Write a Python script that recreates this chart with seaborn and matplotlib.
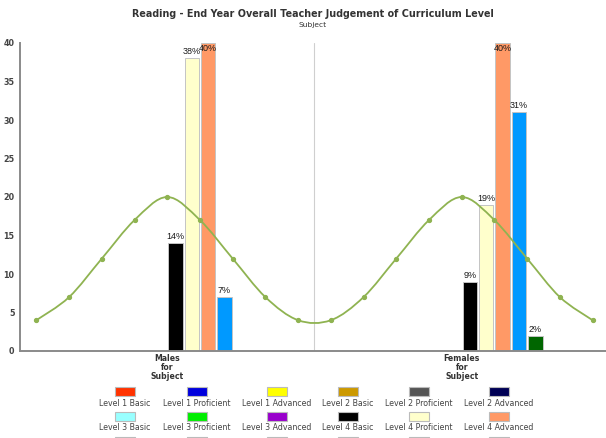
import numpy as np
import pandas as pd
import matplotlib
matplotlib.use("Agg")
import matplotlib.pyplot as plt
from matplotlib.path import Path
from matplotlib.patches import PathPatch, Rectangle
import seaborn as sns

# ---- data -------------------------------------------------------------
groups = ["Males", "Females"]
group_labels = ["Males\nfor\nSubject", "Females\nfor\nSubject"]

levels = [
    "Level 1 Basic", "Level 1 Proficient", "Level 1 Advanced",
    "Level 2 Basic", "Level 2 Proficient", "Level 2 Advanced",
    "Level 3 Basic", "Level 3 Proficient", "Level 3 Advanced",
    "Level 4 Basic", "Level 4 Proficient", "Level 4 Advanced",
    "Level 5 Basic", "Level 5 Proficient", "Level 5 Advanced",
    "Level 6 Basic", "Level 6 Proficient", "Level 6 Advanced",
]
level_colors = [
    "#FF3300", "#0000DD", "#FFFF00",
    "#CC9900", "#555555", "#000055",
    "#99FFFF", "#00EE00", "#9900CC",
    "#000000", "#FFFFCC", "#FF9966",
    "#0099FF", "#006600", "#CCCC99",
    "#CC99CC", "#CC6666", "#6666AA",
]

males_pct   = [0, 0, 0, 0, 0, 0, 0, 0, 0, 14, 38, 40, 7, 0, 0, 0, 0, 0]
females_pct = [0, 0, 0, 0, 0, 0, 0, 0, 0, 9, 19, 40, 31, 2, 0, 0, 0, 0]

# normal-curve overlay: nine points per group
curve_males   = [4, 7, 12, 17, 20, 17, 12, 7, 4]
curve_females = [4, 7, 12, 17, 20, 17, 12, 7, 4]

y_ticks = [0, 5, 10, 15, 20, 25, 30, 35, 40]

title = "Reading - End Year Overall Teacher Judgement of Curriculum Level"
subtitle = "Subject"

# ---- figure -----------------------------------------------------------
sns.set_style("white")
plt.rcParams["font.family"] = ["DejaVu Sans"]

W, H = 606, 438
fig = plt.figure(figsize=(W / 100, H / 100), dpi=100)
ax = fig.add_axes([20 / W, 1 - 351 / H, (W - 20) / W, (351 - 43) / H])

rows = []
for g, vals in zip(groups, [males_pct, females_pct]):
    for lvl, v in zip(levels, vals):
        if v > 0:
            rows.append({"group": g, "level": lvl, "pct": v})
df = pd.DataFrame(rows)

palette = dict(zip(levels, level_colors))
sns.barplot(
    data=df, x="group", y="pct", hue="level",
    order=groups, hue_order=levels, palette=palette, saturation=1,
    width=1.0, gap=0.12, edgecolor="#c4c4c4", linewidth=0.7,
    legend=False, ax=ax, zorder=2,
)

ax.set_xlim(-0.5, 1.49)
ax.set_ylim(0, 40)
ax.set_yticks(y_ticks)
ax.set_yticklabels([str(t) for t in y_ticks], fontsize=5.8,
                   fontweight="bold", color="#444444")
ax.set_xticks(range(len(groups)))
ax.set_xticklabels(group_labels, fontsize=5.6, fontweight="bold",
                   color="#333333", linespacing=1.05)
ax.tick_params(axis="both", length=0)
ax.tick_params(axis="y", pad=4)
ax.tick_params(axis="x", pad=2)
ax.set_xlabel("")
ax.set_ylabel("")

for side in ("top", "right"):
    ax.spines[side].set_visible(False)
for side in ("left", "bottom"):
    ax.spines[side].set_color("#8a8a8a")
    ax.spines[side].set_linewidth(1.4)

# separator between the two groups
ax.axvline(0.5, color="#cfcfcf", linewidth=0.8, zorder=1)

# value labels on bars
for bar in list(ax.patches):
    h = bar.get_height()
    if h <= 0:
        continue
    xc = bar.get_x() + bar.get_width() / 2
    if h >= 39.5:
        ax.text(xc, 39.9, f"{h:.0f}%", ha="center", va="top",
                fontsize=6.5, color="#1a1a1a", zorder=5,
                family="Liberation Sans")
    else:
        ax.annotate(f"{h:.0f}%", (xc, h), xytext=(0, 1.5),
                    textcoords="offset points", ha="center", va="bottom",
                    fontsize=6.5, color="#1a1a1a", zorder=5,
                    family="Liberation Sans")

# smooth distribution curve through both groups
steps = np.arange(-4, 5) / 9.0
cx = np.concatenate([0 + steps, 1 + steps])
cy = np.array(curve_males + curve_females, dtype=float)
verts = [(cx[0], cy[0])]
codes = [Path.MOVETO]
n = len(cx)
for i in range(n - 1):
    p0 = (cx[max(i - 1, 0)], cy[max(i - 1, 0)])
    p1 = (cx[i], cy[i])
    p2 = (cx[i + 1], cy[i + 1])
    p3 = (cx[min(i + 2, n - 1)], cy[min(i + 2, n - 1)])
    c1 = (p1[0] + (p2[0] - p0[0]) / 6, p1[1] + (p2[1] - p0[1]) / 6)
    c2 = (p2[0] - (p3[0] - p1[0]) / 6, p2[1] - (p3[1] - p1[1]) / 6)
    verts += [c1, c2, p2]
    codes += [Path.CURVE4] * 3
curve_color = "#8fb351"
ax.add_patch(PathPatch(Path(verts, codes), facecolor="none",
                       edgecolor=curve_color, linewidth=1.3, zorder=4))
ax.plot(cx, cy, linestyle="none", marker="o", markersize=2.8,
        color=curve_color, zorder=4)

# titles
axc = (20 + W) / 2 / W
fig.text(axc, 1 - 14 / H, title, ha="center", va="center",
         fontsize=6.9, fontweight="bold", color="#333333")
fig.text(axc, 1 - 25 / H, subtitle, ha="center", va="center",
         fontsize=5.4, color="#333333")

# legend: swatch above label, six columns; rows continue below the canvas
col_x = [125, 197, 277, 348, 419, 499]
row_y0 = 387
row_step = 25
sw_w, sw_h = 20, 9
for i, (lvl, col) in enumerate(zip(levels, level_colors)):
    r, c = divmod(i, 6)
    x0 = col_x[c] - sw_w / 2
    y_top = row_y0 + r * row_step
    fig.add_artist(Rectangle((x0 / W, 1 - (y_top + sw_h) / H),
                             sw_w / W, sw_h / H,
                             transform=fig.transFigure,
                             facecolor=col, edgecolor="#bbbbbb",
                             linewidth=0.8))
    label_y = y_top + 16
    if label_y + 5 < H:
        fig.text(col_x[c] / W, 1 - label_y / H, lvl,
                 ha="center", va="center", fontsize=5.7, color="#444444")

fig.savefig("out.png", dpi=100)
